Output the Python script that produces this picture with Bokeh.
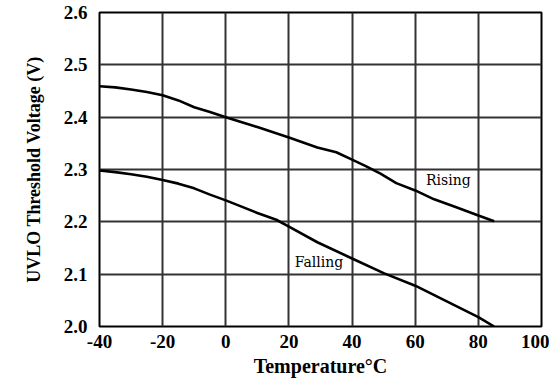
from bokeh.plotting import figure
from bokeh.models import FixedTicker, CustomJSTickFormatter, Range1d, Label
from bokeh.embed import file_html
from bokeh.resources import INLINE

# ---- data ----
temp_rising = [-40, -35, -30, -25, -20, -15, -10, -5, 0, 10, 20, 29, 35, 40, 44.5,
               49, 54, 60, 66, 73, 80, 85]
v_rising = [2.459, 2.457, 2.453, 2.448, 2.442, 2.432, 2.419, 2.410, 2.400, 2.381,
            2.361, 2.342, 2.333, 2.319, 2.306, 2.292, 2.274, 2.260, 2.243, 2.228,
            2.212, 2.201]

temp_falling = [-40, -35, -30, -25, -20, -15, -10, -5, 0, 5, 10, 16, 20, 29, 40, 50,
                60, 70, 80, 85]
v_falling = [2.298, 2.295, 2.291, 2.286, 2.280, 2.273, 2.264, 2.252, 2.241, 2.229,
             2.217, 2.204, 2.191, 2.161, 2.130, 2.102, 2.078, 2.048, 2.018, 2.000]

x_ticks = [-40, -20, 0, 20, 40, 60, 80, 100]
x_tick_labels = ["-40", "-20", "0", "20", "40", "60", "80", "100"]
y_ticks = [2.0, 2.1, 2.2, 2.3, 2.4, 2.5, 2.6]
y_tick_labels = ["2.0", "2.1", "2.2", "2.3", "2.4", "2.5", "2.6"]

x_title = "Temperature\u00b0C"
y_title = "UVLO Threshold Voltage (V)"
series_labels = ["Rising", "Falling"]

FONT = "Liberation Serif"

p = figure(width=549, height=380, output_backend="svg", toolbar_location=None,
           x_range=Range1d(-40, 100), y_range=Range1d(2.0, 2.6),
           min_border_left=99, min_border_right=8, min_border_top=12,
           min_border_bottom=54)
p.background_fill_color = "white"
p.border_fill_color = "white"
p.outline_line_color = "black"
p.outline_line_width = 2

p.line(temp_rising, v_rising, line_color="black", line_width=2.6, line_join="round")
p.line(temp_falling, v_falling, line_color="black", line_width=2.6, line_join="round")

p.xaxis.ticker = FixedTicker(ticks=x_ticks)
p.yaxis.ticker = FixedTicker(ticks=y_ticks)
p.xaxis.formatter = CustomJSTickFormatter(args=dict(labels=x_tick_labels),
                                          code="return labels[index];")
p.yaxis.formatter = CustomJSTickFormatter(args=dict(labels=y_tick_labels),
                                          code="return labels[index];")

for ax in (p.xaxis[0], p.yaxis[0]):
    ax.major_tick_out = 0
    ax.major_tick_in = 0
    ax.minor_tick_out = 0
    ax.minor_tick_in = 0
    ax.axis_line_color = None
    ax.major_label_text_font = FONT
    ax.major_label_text_font_style = "bold"
    ax.major_label_text_font_size = "19px"
    ax.major_label_text_color = "black"
    ax.axis_label_text_font = FONT
    ax.axis_label_text_font_style = "bold"
    ax.axis_label_text_color = "black"

p.xaxis.axis_label_text_font_size = "20px"
p.yaxis.axis_label_text_font_size = "18px"
p.xaxis.axis_label = x_title
p.yaxis.axis_label = y_title
p.xaxis.major_label_standoff = 8
p.xaxis.axis_label_standoff = 4
p.yaxis.major_label_standoff = 12
p.yaxis.axis_label_standoff = 17

p.xgrid.grid_line_color = "#333333"
p.ygrid.grid_line_color = "#333333"
p.xgrid.grid_line_width = 2
p.ygrid.grid_line_width = 2
p.xgrid.grid_line_alpha = 1.0
p.ygrid.grid_line_alpha = 1.0

p.add_layout(Label(x=70.5, y=2.279, text=series_labels[0], text_font="DejaVu Serif",
                   text_font_size="14px", text_align="center", text_baseline="middle",
                   text_color="black"))
p.add_layout(Label(x=29.5, y=2.124, text=series_labels[1], text_font="DejaVu Serif",
                   text_font_size="14px", text_align="center", text_baseline="middle",
                   text_color="black"))

open("out.html", "w").write(file_html(p, INLINE))
